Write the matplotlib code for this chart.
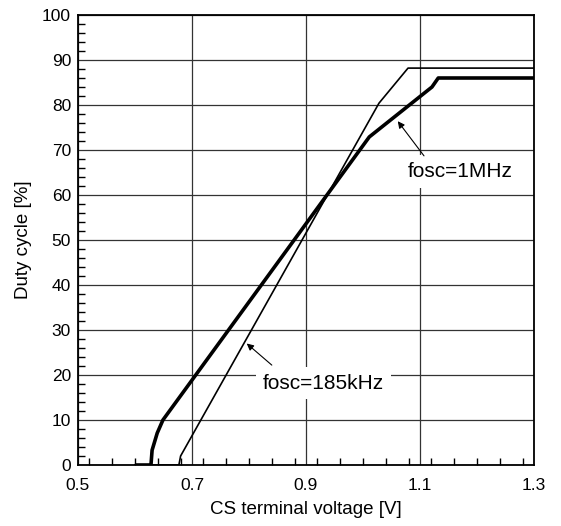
import matplotlib
matplotlib.use("Agg")
import matplotlib.pyplot as plt
from matplotlib.ticker import MultipleLocator

plt.rcParams['font.family'] = ['Liberation Sans', 'DejaVu Sans']

# fosc = 1MHz (thick line)
v_1m = [0.603, 0.628, 0.630, 0.639, 0.649, 1.011, 1.121, 1.132, 1.30]
d_1m = [0.0, 0.0, 3.3, 7.1, 10.0, 72.9, 84.0, 86.0, 86.0]

# fosc = 185kHz (thin line)
v_185k = [0.60, 0.677, 0.680, 1.028, 1.079, 1.30]
d_185k = [0.0, 0.0, 2.0, 80.4, 88.2, 88.2]

x_ticks = [0.5, 0.7, 0.9, 1.1, 1.3]
x_labels = ['0.5', '0.7', '0.9', '1.1', '1.3']

fig = plt.figure(figsize=(5.61, 5.26), dpi=100)
ax = fig.add_axes([78 / 561, 61 / 526, 456 / 561, 450 / 526])

ax.plot(v_185k, d_185k, color='black', lw=1.2, zorder=3)
ax.plot(v_1m, d_1m, color='black', lw=2.6, zorder=3)

ax.set_xlim(0.5, 1.3)
ax.set_ylim(0, 100)
ax.set_xticks(x_ticks)
ax.set_xticklabels(x_labels)
ax.xaxis.set_minor_locator(MultipleLocator(0.04))
ax.yaxis.set_major_locator(MultipleLocator(10))
ax.yaxis.set_minor_locator(MultipleLocator(2))

ax.grid(True, which='major', color='#333333', lw=0.9)
ax.tick_params(which='major', length=0, labelsize=12.5)
ax.tick_params(axis='x', which='major', pad=9)
ax.tick_params(axis='y', which='major', pad=5)
ax.tick_params(which='minor', direction='in', length=5, width=1, top=False, right=False)
for s in ax.spines.values():
    s.set_linewidth(1.3)

ax.set_xlabel('CS terminal voltage [V]', fontsize=13.5, labelpad=6)
ax.set_ylabel('Duty cycle [%]', fontsize=13.5, labelpad=7)

# labels with white background over the grid
box = dict(facecolor='white', edgecolor='none', pad=5)
ax.text(1.17, 65.3, 'fosc=1MHz', ha='center', va='center', fontsize=15,
        bbox=box, zorder=4)
ax.text(0.93, 18.2, 'fosc=185kHz', ha='center', va='center', fontsize=15,
        bbox=box, zorder=4)

# pointer arrows
arrow = dict(arrowstyle='-|>', color='black', lw=0.8, shrinkA=0, shrinkB=0,
             mutation_scale=10)
ax.annotate('', xy=(1.061, 76.4), xytext=(1.107, 68.7), arrowprops=arrow, zorder=5)
ax.annotate('', xy=(0.796, 27.0), xytext=(0.840, 22.2), arrowprops=arrow, zorder=5)

fig.savefig('out.png', dpi=100)
